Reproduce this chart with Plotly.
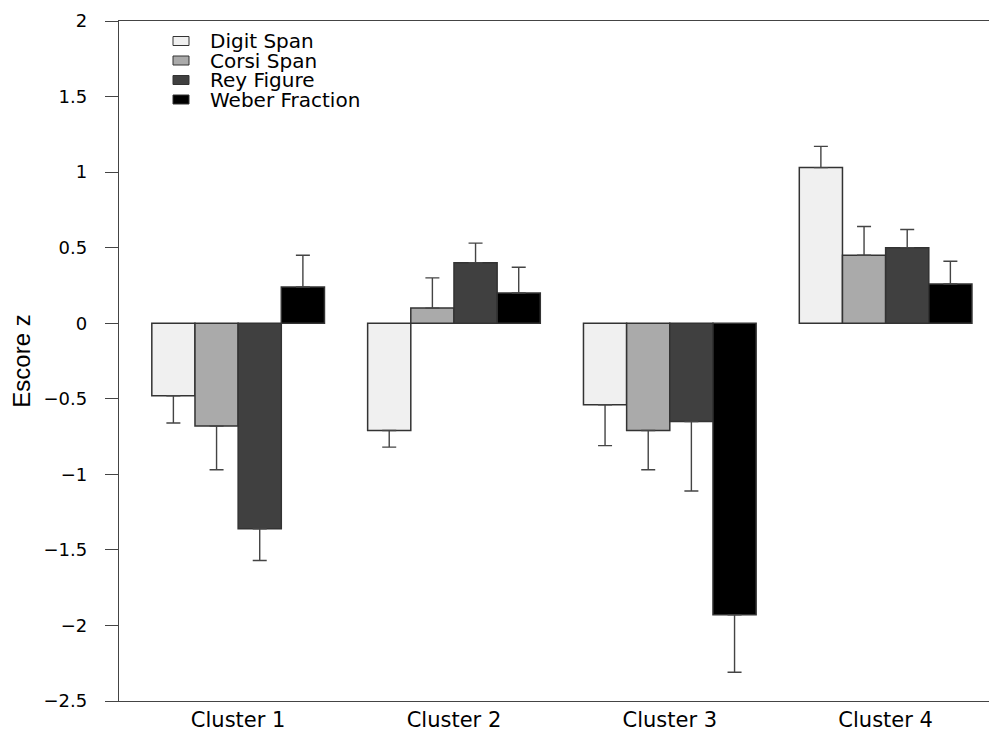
import plotly.graph_objects as go

categories = ["Cluster 1", "Cluster 2", "Cluster 3", "Cluster 4"]
series_names = ["Digit Span", "Corsi Span", "Rey Figure", "Weber Fraction"]
digit_span = [-0.48, -0.71, -0.54, 1.03]
corsi_span = [-0.68, 0.10, -0.71, 0.45]
rey_figure = [-1.36, 0.40, -0.65, 0.50]
weber_fraction = [0.24, 0.20, -1.93, 0.26]
digit_err = [0.18, 0.11, 0.27, 0.14]
corsi_err = [0.29, 0.20, 0.26, 0.19]
rey_err = [0.21, 0.13, 0.46, 0.12]
weber_err = [0.21, 0.17, 0.38, 0.15]
colors = ["#F0F0F0", "#AAAAAA", "#404040", "#000000"]
ytick_vals = [2, 1.5, 1, 0.5, 0, -0.5, -1, -1.5, -2, -2.5]
ytick_text = ["2", "1.5", "1", "0.5", "0", "\u22120.5", "\u22121", "\u22121.5", "\u22122", "\u22122.5"]

values = [digit_span, corsi_span, rey_figure, weber_fraction]
errors = [digit_err, corsi_err, rey_err, weber_err]

FONT = "DejaVu Sans"
AX = "#444444"

fig = go.Figure()
for name, vals, errs, col in zip(series_names, values, errors, colors):
    plus = [e if v >= 0 else 0 for v, e in zip(vals, errs)]
    minus = [e if v < 0 else 0 for v, e in zip(vals, errs)]
    fig.add_trace(go.Bar(
        x=categories, y=vals, name=name,
        marker=dict(color=col, line=dict(color="#333333", width=1.5)),
        error_y=dict(type="data", symmetric=False, array=plus, arrayminus=minus,
                     color=AX, thickness=1.4, width=7),
        showlegend=False,
    ))

# page body has an 8px margin, so the figure is sized/offset to compensate
OFF = 8
W, H = 997 - OFF, 740 - OFF
ml, mr, mt, mb = 119 - OFF, 0, 21 - OFF, 39
pw = W - ml - mr
ph = H - mt - mb
y0, y1 = -2.5, 2.0

def px_to_paper_x(px):
    return (px - OFF - ml) / pw

def px_to_y(py):
    return y1 - (py - OFF - mt) / ph * (y1 - y0)

# manual legend (R style)
row_px = [41, 60.5, 80, 99.5]
shapes = []
annotations = []
for name, col, rp in zip(series_names, colors, row_px):
    shapes.append(dict(type="rect", xref="paper", yref="y",
                       x0=px_to_paper_x(173), x1=px_to_paper_x(189),
                       y0=px_to_y(rp + 4.5), y1=px_to_y(rp - 4.5),
                       fillcolor=col, line=dict(color="#333333", width=1)))
    annotations.append(dict(xref="paper", yref="y", x=px_to_paper_x(208), y=px_to_y(rp),
                            text=name, showarrow=False, xanchor="left", yanchor="middle",
                            font=dict(family=FONT, size=20, color="#000000")))

fig.update_layout(
    width=W, height=H,
    margin=dict(l=ml, r=mr, t=mt, b=mb, pad=0),
    plot_bgcolor="white", paper_bgcolor="white",
    barmode="group", bargap=0.2, bargroupgap=0,
    shapes=shapes, annotations=annotations,
    xaxis=dict(
        range=[-0.552, 3.516], showline=True, mirror=True, linecolor=AX, linewidth=1.3,
        ticks="", showgrid=False, zeroline=False,
        tickfont=dict(family=FONT, size=21, color="#000000"),
    ),
    yaxis=dict(
        range=[y0, y1], showline=True, mirror=False, linecolor=AX, linewidth=1.3,
        ticks="outside", ticklen=13, tickwidth=1.3, tickcolor=AX,
        tickvals=ytick_vals, ticktext=ytick_text, ticklabelstandoff=14,
        showgrid=False, zeroline=False,
        tickfont=dict(family=FONT, size=18, color="#000000"),
        title=dict(text="Escore z", standoff=14,
                   font=dict(family="Liberation Sans Narrow, Liberation Sans", size=24, color="#000000")),
    ),
)

fig.write_html("out.html")
